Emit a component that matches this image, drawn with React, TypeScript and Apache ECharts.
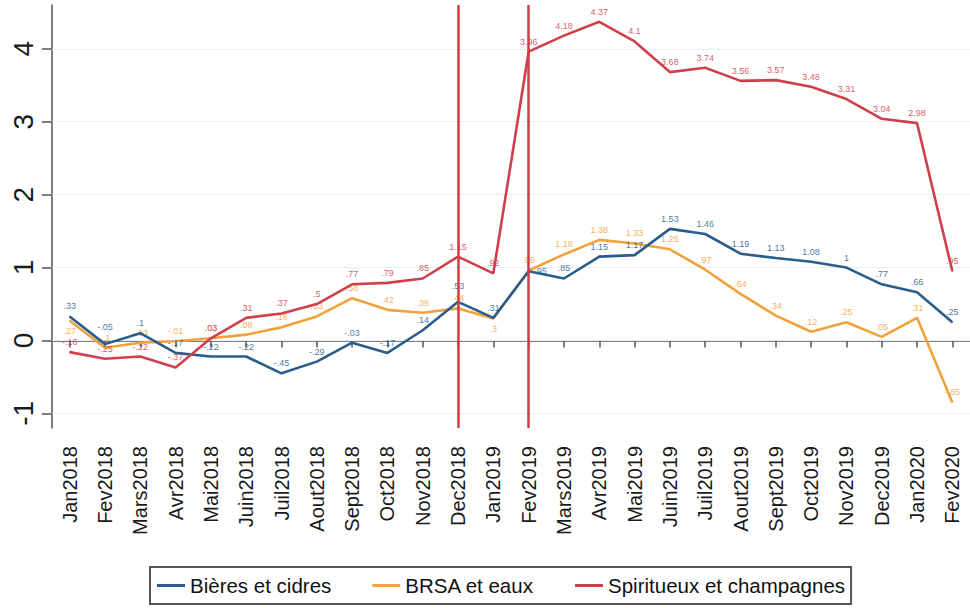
import React, { useEffect, useRef } from "react";
import * as echarts from "echarts";

const months = [
  "Jan2018", "Fev2018", "Mars2018", "Avr2018", "Mai2018", "Juin2018", "Juil2018", "Aout2018",
  "Sept2018", "Oct2018", "Nov2018", "Dec2018", "Jan2019", "Fev2019", "Mars2019", "Avr2019",
  "Mai2019", "Juin2019", "Juil2019", "Aout2019", "Sept2019", "Oct2019", "Nov2019", "Dec2019",
  "Jan2020", "Fev2020",
];

const bieres = [
  0.33, -0.05, 0.1, -0.17, -0.22, -0.22, -0.45, -0.29, -0.03, -0.17, 0.14, 0.53, 0.31,
  0.95, 0.85, 1.15, 1.17, 1.53, 1.46, 1.19, 1.13, 1.08, 1, 0.77, 0.66, 0.25,
];

const brsa = [
  0.27, -0.1, -0.03, -0.01, 0.03, 0.08, 0.18, 0.33, 0.58, 0.42, 0.38, 0.44, 0.3,
  0.96, 1.18, 1.38, 1.33, 1.25, 0.97, 0.64, 0.34, 0.12, 0.25, 0.05, 0.31, -0.85,
];

const spiritueux = [
  -0.16, -0.25, -0.22, -0.37, 0.03, 0.31, 0.37, 0.5, 0.77, 0.79, 0.85, 1.15, 0.92,
  3.96, 4.18, 4.37, 4.1, 3.68, 3.74, 3.56, 3.57, 3.48, 3.31, 3.04, 2.98, 0.95,
];

const seriesNames = ["Bières et cidres", "BRSA et eaux", "Spiritueux et champagnes"];
const yTicks = [-1, 0, 1, 2, 3, 4];
const eventMonths = ["Dec2018", "Fev2019"];

// per-point label placement tweaks (styling only)
const blueLabelTweaks: Record<number, any> = {
  1: { distance: 12 },
  11: { distance: 11 },
  13: { position: "right", distance: 5 },
};
const orangeLabelTweaks: Record<number, any> = {
  0: { position: "bottom" },
  12: { position: "bottom" },
};
const redLabelTweaks: Record<number, any> = {};

const COLORS = ["#2a5d8c", "#f2a23a", "#d0404a"];
const FONT = "'Liberation Sans', Arial, sans-serif";

function stataFmt(v: number): string {
  let s = String(v);
  s = s.replace(/^0\./, ".").replace(/^-0\./, "-.");
  return s;
}

function withTweaks(values: number[], tweaks: Record<number, any>) {
  return values.map((v, i) => (tweaks[i] ? { value: v, label: tweaks[i] } : v));
}

export default function App() {
  const ref = useRef<HTMLDivElement>(null);

  useEffect(() => {
    if (!ref.current) return;
    const chart = echarts.init(ref.current, null, { renderer: "svg" });

    const mkSeries = (name: string, data: any[], color: string, extra: any = {}) => ({
      name,
      type: "line",
      data,
      symbol: "circle",
      symbolSize: 1,
      showSymbol: true,
      lineStyle: { color, width: 2.6 },
      itemStyle: { color },
      label: {
        show: true,
        position: "top",
        distance: 5,
        fontSize: 9,
        fontFamily: FONT,
        color,
        opacity: 0.85,
        formatter: (p: any) => stataFmt(p.value),
      },
      ...extra,
    });

    chart.setOption({
      animation: false,
      backgroundColor: "#ffffff",
      textStyle: { fontFamily: FONT },
      grid: { left: 52, right: 0, top: 5, bottom: 180, containLabel: false },
      xAxis: {
        type: "category",
        data: months,
        boundaryGap: true,
        axisLine: { show: true, lineStyle: { color: "#555", width: 1.5 } },
        axisTick: { show: true, alignWithLabel: true, length: 7, lineStyle: { color: "#555", width: 1.5 } },
        axisLabel: {
          rotate: 90,
          interval: 0,
          margin: 18,
          fontSize: 20,
          color: "#1a1a1a",
          fontFamily: FONT,
        },
        splitLine: { show: false },
      },
      yAxis: {
        type: "value",
        min: -1.2,
        max: 4.6,
        axisLine: { show: true, lineStyle: { color: "#555", width: 1.5 } },
        axisTick: { show: true, length: 10, customValues: yTicks, lineStyle: { color: "#555", width: 1.5 } },
        axisLabel: {
          rotate: 90,
          margin: 15,
          fontSize: 28,
          color: "#1a1a1a",
          fontFamily: FONT,
          customValues: yTicks,
          formatter: (v: number) => String(v),
        },
        splitLine: { show: false },
      },
      legend: {
        data: seriesNames,
        left: 150,
        top: 567,
        orient: "horizontal",
        icon: "rect",
        itemWidth: 28,
        itemHeight: 3,
        itemGap: 41,
        borderColor: "#555",
        borderWidth: 2,
        padding: [8, 6, 8, 7],
        textStyle: { fontSize: 20.5, color: "#111", fontFamily: FONT },
      },
      series: [
        mkSeries(seriesNames[0], withTweaks(bieres, blueLabelTweaks), COLORS[0], {
          z: 3,
          markLine: {
            silent: true,
            symbol: ["none", "none"],
            label: { show: false },
            lineStyle: { color: "#e6eff3", width: 1, type: "solid" },
            data: yTicks.map((v) => ({ yAxis: v })),
            z: 1,
          },
        }),
        mkSeries(seriesNames[1], withTweaks(brsa, orangeLabelTweaks), COLORS[1], { z: 2 }),
        mkSeries(seriesNames[2], withTweaks(spiritueux, redLabelTweaks), COLORS[2], {
          z: 4,
          markLine: {
            silent: true,
            symbol: ["none", "none"],
            label: { show: false },
            lineStyle: { color: "#cf3d44", width: 2.5, type: "solid" },
            data: eventMonths.map((m) => ({ xAxis: m })),
          },
        }),
      ],
    });

    return () => chart.dispose();
  }, []);

  return (
    <div
      ref={ref}
      style={{ position: "fixed", left: 0, top: 0, width: 970, height: 608, background: "#fff" }}
    />
  );
}
